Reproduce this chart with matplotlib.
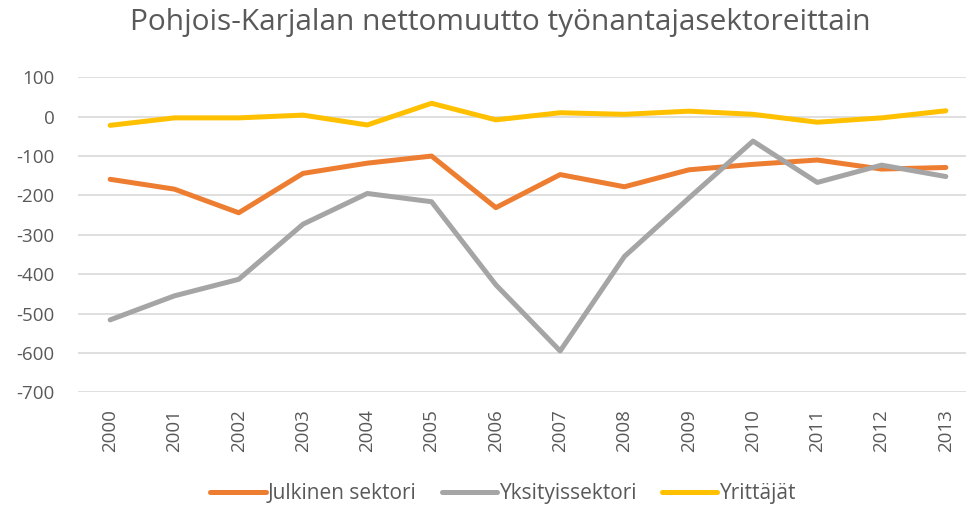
import matplotlib.pyplot as plt

vuodet = ['2000', '2001', '2002', '2003', '2004', '2005', '2006',
          '2007', '2008', '2009', '2010', '2011', '2012', '2013']
julkinen = [-159, -184, -244, -144, -118, -100, -231,
            -147, -178, -135, -121, -110, -133, -129]
yksityinen = [-516, -455, -413, -273, -195, -216, -427,
              -595, -355, -207, -62, -167, -123, -152]
yrittajat = [-22, -3, -3, 4, -21, 34, -8,
             10, 6, 14, 6, -14, -3, 15]

plt.rcParams['font.family'] = ['Open Sans', 'DejaVu Sans']
plt.rcParams['axes.unicode_minus'] = False
teksti = '#595959'

fig = plt.figure(figsize=(9.66, 5.07), dpi=100)
ax = fig.add_axes([78 / 966, 0.2262, 900 / 966, 0.6213])

x = range(len(vuodet))
ax.plot(x, julkinen, color='#ED7D31', lw=3.6, label='Julkinen sektori', solid_capstyle='round')
ax.plot(x, yksityinen, color='#A5A5A5', lw=3.6, label='Yksityissektori', solid_capstyle='round')
ax.plot(x, yrittajat, color='#FFC000', lw=3.6, label='Yrittäjät', solid_capstyle='round')

ax.set_xlim(-0.5, 13.5)
ax.set_ylim(-700, 100)
ax.set_yticks(range(-700, 101, 100))
ax.set_xticks(list(x))
ax.set_xticklabels(vuodet, rotation=90)
ax.grid(axis='y', color='#D9D9D9', lw=1.2)
ax.set_axisbelow(True)
for s in ax.spines.values():
    s.set_visible(False)
ax.tick_params(length=0, labelsize=13.5, colors=teksti)
ax.tick_params(axis='x', pad=12)
ax.tick_params(axis='y', pad=17)

fig.text(0.518, 0.955, 'Pohjois-Karjalan nettomuutto työnantajasektoreittain',
         ha='center', va='center', fontsize=21.5, color=teksti)

fig.legend(loc='center', bbox_to_anchor=(0.521, 0.026), ncol=3,
           frameon=False, fontsize=15, labelcolor=teksti, handlelength=2.65,
           handletextpad=0.12, columnspacing=1.2, borderaxespad=0)

fig.savefig('out.png', dpi=100)
